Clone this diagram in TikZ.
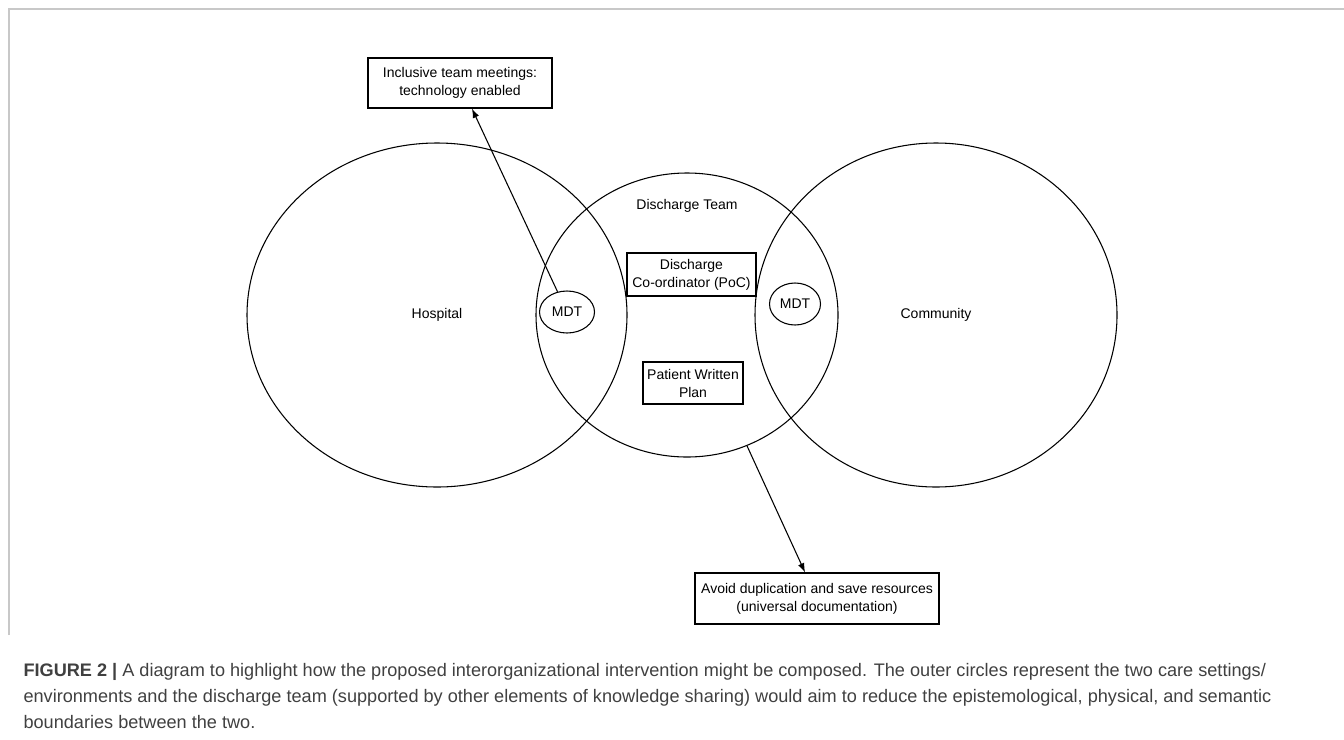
\documentclass[tikz,border=0pt]{standalone}
\usepackage{fontspec}
\setmainfont{Liberation Sans}
\usetikzlibrary{shapes.geometric, arrows.meta}
\definecolor{framegray}{RGB}{200,200,200}
\definecolor{capgray}{RGB}{64,64,64}
\tikzset{
  setting/.style={draw, ellipse, inner sep=0pt},
  mdt/.style={draw, ellipse, inner sep=0pt, minimum height=31.5pt},
  box/.style={draw, rectangle, align=center, inner sep=0pt},
  caption/.style={anchor=base west, inner sep=0pt, text=capgray, font=\fontsize{13.6}{16}\selectfont}
}
\begin{document}
\begin{tikzpicture}[x=.75pt, y=-.75pt, >={Latex[length=7pt,width=5pt]}, line width=.8pt, font=\fontsize{10.5}{13.5}\selectfont]
\useasboundingbox (0,0) rectangle (1344,739);
% frame of the figure
\draw[framegray, line width=1.5pt] (9,635) -- (9,9) -- (1344,9);
% the three settings
\node[setting, minimum width=285pt, minimum height=258pt] (hosp) at (437,315) {Hospital};
\node[setting, minimum width=226.5pt, minimum height=213pt] (team) at (687,315) {};
\node[setting, minimum width=271.5pt, minimum height=258pt] (comm) at (936,315) {Community};
\node (teamlbl) at (687,206) {Discharge Team};
% inside the team
\node[mdt, minimum width=41.25pt] (mdtL) at (567,312) {MDT};
\node[mdt, minimum width=38.25pt] (mdtR) at (795,304) {MDT};
\node[box, minimum width=96.75pt, minimum height=32.25pt] (coord) at (691.5,274.5) {Discharge\\Co-ordinator (PoC)};
\node[box, minimum width=75pt, minimum height=31.5pt] (plan) at (693,383) {Patient Written\\Plan};
% outcomes
\node[box, minimum width=138pt, minimum height=37.5pt] (incl) at (460,83) {Inclusive team meetings:\\technology enabled};
\node[box, minimum width=183pt, minimum height=38.25pt] (avoid) at (817,598.5) {Avoid duplication and save resources\\(universal documentation)};
\draw[->] (mdtL) -- (incl);
\draw[->] (team) -- (avoid);
% caption
\node[caption] (cap1) at (23,676) {\textbf{FIGURE 2 |} A diagram to highlight how the proposed interorganizational intervention might be composed. The outer circles represent the two care settings/};
\node[caption] (cap2) at (23,702) {environments and the discharge team (supported by other elements of knowledge sharing) would aim to reduce the epistemological, physical, and semantic};
\node[caption] (cap3) at (23,728) {boundaries between the two.};
\end{tikzpicture}
\end{document}
